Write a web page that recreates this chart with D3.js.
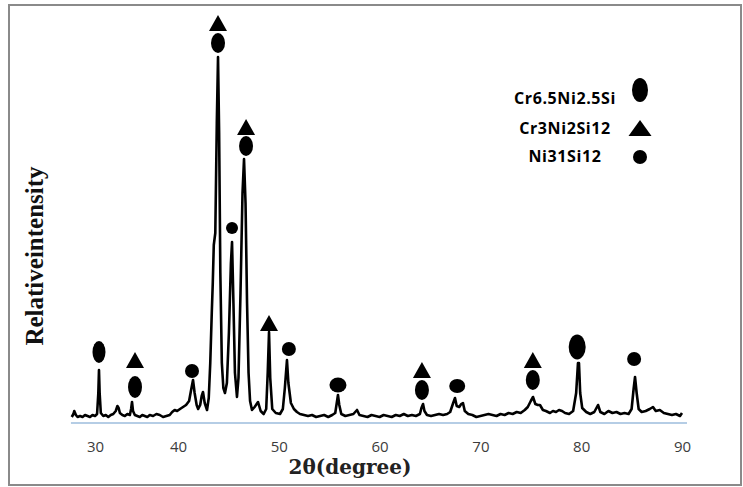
<!DOCTYPE html>
<html>
<head>
<meta charset="utf-8">
<script src="https://cdn.jsdelivr.net/npm/d3@7"></script>
<style>
  body { margin: 0; background: #fff; }
  svg { display: block; }
</style>
</head>
<body>
<svg width="743" height="487"></svg>
<script>
// 2theta tick labels shown under the axis
var tickValues = [30, 40, 50, 60, 70, 80, 90];

// measured pattern: [2theta, intensity (a.u.)]
var pattern = [
  [27.2,6],[27.4,9],[27.5,12],[27.7,8],[27.9,6],[28.2,7],[28.5,6],[28.8,8],[29.1,7],[29.4,6],
  [29.7,8],[30.0,7],[30.25,9],[30.4,30],[30.48,53],[30.56,30],[30.7,10],[31.0,7],[31.3,8],[31.6,6],
  [31.9,8],[32.2,9],[32.5,12],[32.7,17],[32.85,15],[33.0,10],[33.3,8],[33.6,7],[33.9,9],[34.2,8],
  [34.35,14],[34.46,21],[34.58,12],[34.8,8],[35.1,7],[35.4,6],[35.7,8],[36.0,7],[36.3,6],[36.6,8],
  [37.0,7],[37.4,9],[37.8,8],[38.2,6],[38.6,7],[39.0,8],[39.3,11],[39.6,13],[39.9,12],[40.2,14],
  [40.5,16],[40.8,18],[41.1,22],[41.3,33],[41.49,43],[41.65,30],[41.85,18],[42.0,14],[42.2,18],[42.35,27],
  [42.48,31],[42.65,20],[42.88,13],[43.05,25],[43.2,60],[43.35,110],[43.45,140],[43.55,178],[43.7,190],[43.85,300],
  [43.97,366],[44.08,290],[44.2,150],[44.35,60],[44.5,35],[44.66,30],[44.85,40],[45.05,90],[45.25,160],[45.36,181],
  [45.5,120],[45.65,50],[45.85,26],[46.0,45],[46.2,130],[46.4,230],[46.55,264],[46.7,220],[46.85,120],[47.0,50],
  [47.15,22],[47.34,13],[47.6,16],[47.94,21],[48.2,12],[48.5,9],[48.75,14],[48.9,50],[49.03,91],[49.15,45],
  [49.35,14],[49.7,10],[50.12,9],[50.4,14],[50.6,35],[50.81,63],[50.95,40],[51.2,20],[51.5,14],[51.8,11],
  [52.1,9],[52.5,8],[52.9,7],[53.3,8],[53.7,6],[54.1,7],[54.5,8],[54.9,6],[55.3,8],[55.6,10],
  [55.75,20],[55.87,28],[56.0,18],[56.2,9],[56.6,7],[57.0,8],[57.4,9],[57.76,13],[58.0,8],[58.4,7],
  [58.8,6],[59.2,8],[59.6,7],[60.0,6],[60.4,8],[60.8,7],[61.2,6],[61.6,8],[62.0,7],[62.4,9],
  [62.8,7],[63.2,8],[63.6,7],[64.0,9],[64.15,15],[64.31,19],[64.45,12],[64.7,8],[65.1,7],[65.5,8],
  [65.9,9],[66.3,8],[66.7,9],[67.0,11],[67.3,20],[67.48,25],[67.65,17],[67.9,16],[68.1,19],[68.27,20],
  [68.45,12],[68.8,9],[69.2,8],[69.6,6],[70.0,7],[70.4,8],[70.8,9],[71.2,8],[71.6,7],[72.0,9],
  [72.4,8],[72.8,10],[73.2,9],[73.6,11],[74.0,10],[74.4,13],[74.7,16],[75.0,22],[75.22,26],[75.45,19],
  [75.7,18],[75.91,18],[76.2,13],[76.5,12],[76.9,10],[77.2,12],[77.5,11],[77.8,13],[78.1,12],[78.4,10],
  [78.8,9],[79.2,12],[79.5,30],[79.68,60],[79.78,60],[79.9,30],[80.1,15],[80.5,11],[80.9,9],[81.3,11],
  [81.67,18],[81.9,11],[82.3,9],[82.7,12],[83.1,10],[83.5,11],[83.9,9],[84.3,10],[84.7,9],[85.0,14],
  [85.2,34],[85.34,46],[85.5,30],[85.7,14],[86.0,11],[86.4,12],[86.8,14],[87.12,16],[87.4,12],[87.8,13],
  [88.2,10],[88.6,9],[89.0,8],[89.4,9],[89.8,7],[90.0,10]
];

// phase markers above peaks: [2theta, intensity, shape, rx, ry]
var markers = [
  [30.48, 71, 'ellipse', 6.5, 11],
  [34.82, 63, 'triangle', 9, 8],
  [34.82, 36, 'ellipse', 7, 11],
  [41.39, 52, 'ellipse', 7, 7],
  [43.97, 400, 'triangle', 9, 8],
  [43.97, 380, 'ellipse', 7, 10],
  [45.36, 195, 'ellipse', 6, 6],
  [46.75, 296, 'triangle', 9, 8],
  [46.75, 277, 'ellipse', 7, 10],
  [49.03, 100, 'triangle', 9, 8],
  [51.0, 74, 'ellipse', 7, 7],
  [55.87, 38, 'ellipse', 8.5, 7.5],
  [64.2, 53, 'triangle', 9, 8],
  [64.2, 33, 'ellipse', 7, 10],
  [67.7, 37, 'ellipse', 8, 7],
  [75.2, 63, 'triangle', 9, 8],
  [75.2, 43, 'ellipse', 7, 10],
  [79.6, 76, 'ellipse', 8.5, 12.5],
  [85.25, 64, 'ellipse', 7, 7]
];

// legend entries: [label, shape, rx, ry]
var legendItems = [
  ['Cr6.5Ni2.5Si', 'ellipse', 8, 12],
  ['Cr3Ni2Si12', 'triangle', 11.5, 8],
  ['Ni31Si12', 'ellipse', 7, 7]
];

var svg = d3.select('svg');

// outer frame
svg.append('rect')
  .attr('x', 9).attr('y', 5)
  .attr('width', 732).attr('height', 480)
  .attr('fill', 'none')
  .attr('stroke', '#8a8a8a')
  .attr('stroke-width', 2);

// the original axis is not evenly spaced between 30 and 40
var x = d3.scaleLinear()
  .domain([30, 40, 90])
  .range([95, 178, 682]);

var y = d3.scaleLinear()
  .domain([0, 400])
  .range([423, 23]);

// axis baseline
svg.append('line')
  .attr('x1', x(27.1)).attr('x2', x(90.5))
  .attr('y1', y(0)).attr('y2', y(0))
  .attr('stroke', '#9dbcdc')
  .attr('stroke-width', 1.5);

var xAxis = d3.axisBottom(x).tickValues(tickValues).tickSize(0).tickPadding(18);

var axisG = svg.append('g')
  .attr('transform', 'translate(0,' + y(0) + ')')
  .call(xAxis);
axisG.select('.domain').remove();
axisG.selectAll('text')
  .style('font-family', "'Open Sans', 'Liberation Sans', sans-serif")
  .style('font-size', '15px')
  .attr('fill', '#3c3c3c');

// pattern line
var line = d3.line()
  .x(function(d) { return x(d[0]); })
  .y(function(d) { return y(d[1]); });

svg.append('path')
  .datum(pattern)
  .attr('d', line)
  .attr('fill', 'none')
  .attr('stroke', '#000')
  .attr('stroke-width', 2.6)
  .attr('stroke-linejoin', 'round');

//draws a marker of given shape centred at cx, cy
function drawMarker(g, shape, cx, cy, rx, ry) {
  if (shape === 'triangle') {
    g.append('path')
      .attr('d', 'M' + cx + ',' + (cy - ry) + 'L' + (cx + rx) + ',' + (cy + ry) + 'L' + (cx - rx) + ',' + (cy + ry) + 'Z')
      .attr('fill', '#000');
  } else {
    g.append('ellipse')
      .attr('cx', cx).attr('cy', cy)
      .attr('rx', rx).attr('ry', ry)
      .attr('fill', '#000');
  }
}

var markerG = svg.append('g');
markers.forEach(function(m) {
  drawMarker(markerG, m[2], x(m[0]), y(m[1]), m[3], m[4]);
});

// legend
var legendY = [98, 128, 156];
var legendG = svg.append('g');
legendItems.forEach(function(d, i) {
  legendG.append('text')
    .attr('x', 565)
    .attr('y', legendY[i])
    .attr('dy', '0.35em')
    .attr('text-anchor', 'middle')
    .style('font-family', "'Open Sans', 'Liberation Sans', sans-serif")
    .style('font-size', '16px')
    .style('font-weight', 700)
    .style('letter-spacing', '0.6px')
    .text(d[0]);
});
drawMarker(legendG, 'ellipse', 640, 90, 8, 12);
drawMarker(legendG, 'triangle', 640, 128, 11.5, 8);
drawMarker(legendG, 'ellipse', 640, 157, 7, 7);

// axis titles
svg.append('text')
  .attr('x', 350)
  .attr('y', 474)
  .attr('text-anchor', 'middle')
  .style('font-family', "'DejaVu Serif', serif")
  .style('font-size', '20px')
  .style('font-weight', 700)
  .attr('fill', '#222')
  .text('2θ(degree)');

svg.append('text')
  .attr('transform', 'translate(43,256) rotate(-90)')
  .attr('text-anchor', 'middle')
  .style('font-family', "'Liberation Serif', 'Times New Roman', serif")
  .style('font-size', '25px')
  .style('font-weight', 700)
  .attr('fill', '#111')
  .text('Relativeintensity');
</script>
</body>
</html>
